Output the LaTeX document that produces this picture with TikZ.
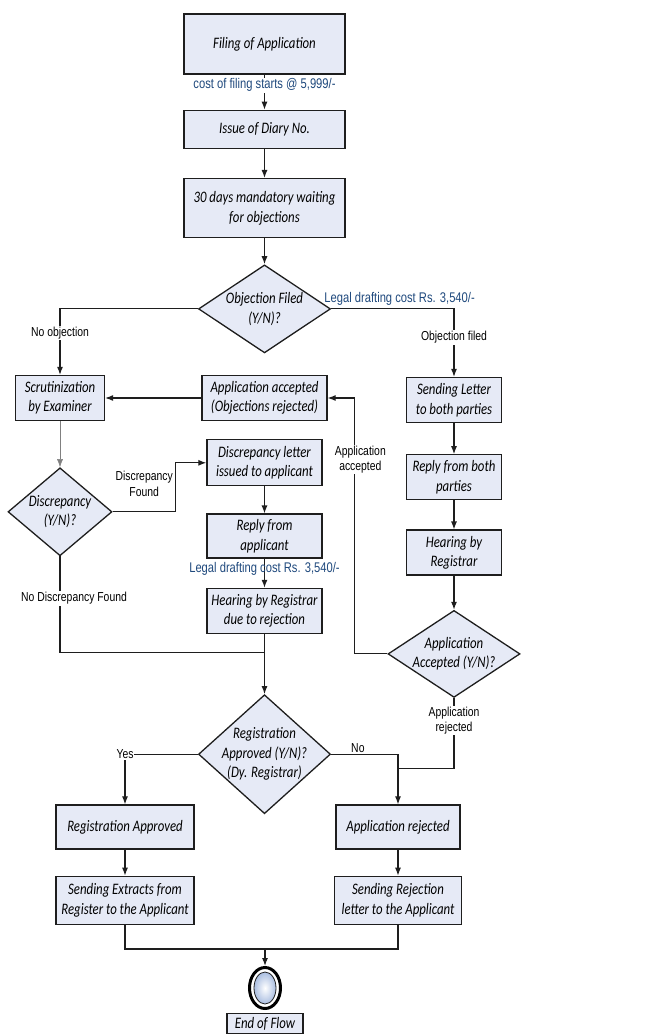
\documentclass[tikz,border=0pt]{standalone}
\usepackage{fontspec}
\setmainfont{Carlito}[FakeStretch=0.8]
\newfontfamily\lblfont{Liberation Sans}[FakeStretch=0.8]
\usetikzlibrary{arrows.meta,positioning,calc,shapes.geometric}
\definecolor{boxfill}{RGB}{230,234,246}
\definecolor{costblue}{RGB}{31,73,125}
\definecolor{edge}{RGB}{30,30,30}
\definecolor{endblue}{RGB}{170,190,225}
\tikzset{
  >={Latex[length=8pt,width=6pt]},
  block/.style={draw=edge,line width=1.3pt,fill=boxfill,align=center,inner sep=2pt,font=\fontsize{16}{19.5}\selectfont\itshape},
  decision/.style={diamond,draw=edge,line width=1.3pt,fill=boxfill,inner sep=0pt},
  dectext/.style={align=center,font=\fontsize{16}{19.5}\selectfont\itshape},
  arrow/.style={->,line width=1.1pt,draw=edge},
  line/.style={line width=1.1pt,draw=edge},
  note/.style={align=center,font=\lblfont\fontsize{13}{15.5}\selectfont,inner sep=1pt},
  cost/.style={note,text=costblue,font=\lblfont\fontsize{14}{15}\selectfont},
}

\begin{document}
\begin{tikzpicture}[x=1pt,y=-1pt]
\useasboundingbox (0,0) rectangle (650,1035);
% main column
\node[block,minimum width=161pt,minimum height=60pt] (filing) at (264.5,44) {Filing of Application};
\node[block,minimum width=161pt,minimum height=38pt,below=35pt of filing] (diary) {Issue of Diary No.};
\node[block,minimum width=161pt,minimum height=59pt,below=29pt of diary] (wait) {30 days mandatory waiting\\for objections};
\node[decision,minimum width=132pt,minimum height=88pt,below=26pt of wait,
  label={[dectext]center:Objection Filed\\(Y/N)?}] (objdec) {};
% left column
\node[block,minimum width=89pt,minimum height=45pt] (scrut) at (60,398) {Scrutinization\\by Examiner};
\node[decision,minimum width=104pt,minimum height=88pt,below=46pt of scrut,
  label={[dectext]center:Discrepancy\\(Y/N)?}] (discdec) {};
% middle column
\node[block,minimum width=125pt,minimum height=45pt] (appacc) at (264.5,398) {Application accepted\\(Objections rejected)};
\node[block,minimum width=115pt,minimum height=46pt,below=18pt of appacc] (disclet) {Discrepancy letter\\issued to applicant};
\node[block,minimum width=115pt,minimum height=44pt,below=27pt of disclet] (reply) {Reply from\\applicant};
\node[block,minimum width=115pt,minimum height=45pt,below=29pt of reply] (hearrej) {Hearing by Registrar\\due to rejection};
\node[decision,minimum width=132pt,minimum height=119pt,below=60pt of hearrej,
  label={[dectext]center:Registration\\Approved (Y/N)?\\(Dy. Registrar)}] (regdec) {};
% right column
\node[block,minimum width=95pt,minimum height=45pt] (sendlet) at (454,400) {Sending Letter\\to both parties};
\node[block,minimum width=95pt,minimum height=45pt,below=31pt of sendlet] (replyboth) {Reply from both\\parties};
\node[block,minimum width=95pt,minimum height=45pt,below=29pt of replyboth] (hearreg) {Hearing by\\Registrar};
\node[decision,minimum width=132pt,minimum height=87pt,below=34pt of hearreg,
  label={[dectext]center:Application\\Accepted (Y/N)?}] (appdec) {};
% outcomes
\node[block,minimum width=138pt,minimum height=44pt] (regapp) at (125,827) {Registration Approved};
\node[block,minimum width=124pt,minimum height=44pt] (apprej) at (398,827) {Application rejected};
\node[block,minimum width=138pt,minimum height=48pt,below=26pt of regapp] (sendext) {Sending Extracts from\\Register to the Applicant};
\node[block,minimum width=127pt,minimum height=48pt,below=26pt of apprej] (sendrej) {Sending Rejection\\letter to the Applicant};
\node[ellipse,draw=black,line width=3pt,fill=white,minimum width=31pt,minimum height=41pt,inner sep=0pt] (endc) at (265,988) {};
\shade[inner color=white,outer color=endblue,draw=edge,line width=0.8pt] (endc.center) ellipse (11pt and 16pt);
\node[block,minimum width=76pt,minimum height=20pt,inner sep=1pt,below=3pt of endc] (endlbl) {End of Flow};

% connectors
\draw[arrow] (filing) -- node[cost,fill=white,pos=0.3]{cost of filing starts @ 5,999/-} (diary);
\draw[arrow] (diary) -- (wait);
\draw[arrow] (wait) -- (objdec);
\draw[arrow] (objdec.west) -| node[note,fill=white,pos=0.68]{No objection} (scrut.north);
\node[cost,anchor=south west] (legal1) at ([xshift=-8pt,yshift=2pt]objdec.east) {Legal drafting cost Rs. 3,540/-};
\draw[arrow] (objdec.east) -| node[note,fill=white,pos=0.71]{Objection filed} (sendlet.north);
\draw[arrow] (appacc) -- (scrut);
\draw[->,line width=0.5pt,draw=gray] (scrut) -- (discdec);
\draw[arrow] (discdec.east) -- node[note,above=14pt]{Discrepancy\\Found} ++(63pt,0) |- (disclet.west);
\draw[arrow] (disclet) -- (reply);
\draw[arrow] (reply) -- node[cost,pos=0.35]{Legal drafting cost Rs. 3,540/-} (hearrej);
\coordinate (mergeL) at ($(hearrej.south)+(0,-18pt)$);
\draw[line] (discdec.south) |- node[note,fill=white,pos=0.22,xshift=14pt]{No Discrepancy Found} (mergeL);
\draw[arrow] (hearrej) -- (regdec);
\draw[arrow] (sendlet) -- (replyboth);
\draw[arrow] (replyboth) -- (hearreg);
\draw[arrow] (hearreg) -- (appdec);
\draw[arrow] (appdec.west) -- ++(-33pt,0) |- node[note,fill=white,pos=0.38,xshift=6pt]{Application\\accepted} (appacc.east);
\coordinate (mergeR) at ($(apprej.north)+(0,36pt)$);
\draw[line] (appdec.south) |- node[note,fill=white,pos=0.16]{Application\\rejected} (mergeR);
\draw[arrow] (regdec.east) -| node[note,above,pos=0.2]{No} (apprej.north);
\draw[arrow] (regdec.west) -| node[note,fill=white,pos=0.5]{Yes} (regapp.north);
\draw[arrow] (regapp) -- (sendext);
\draw[arrow] (apprej) -- (sendrej);
\coordinate (mergeB) at ($(endc.north)+(0,17pt)$);
\draw[line] (sendext.south) |- (mergeB) -| (sendrej.south);
\draw[arrow] (mergeB) -- (endc);
\end{tikzpicture}
\end{document}
